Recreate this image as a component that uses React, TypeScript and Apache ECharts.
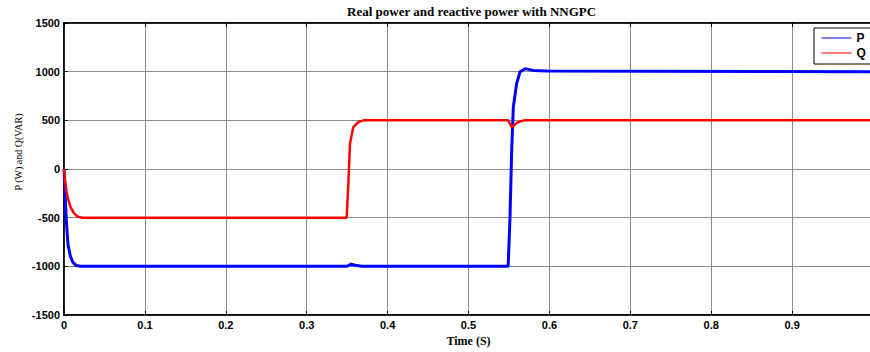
import React, { useEffect, useRef } from "react";
import * as echarts from "echarts";

// Time samples (s) and real power P (W)
const pTime = [0, 0.001, 0.003, 0.005, 0.008, 0.011, 0.015, 0.02, 0.35, 0.352, 0.355, 0.36, 0.368, 0.549, 0.5513, 0.5534, 0.5554, 0.5595, 0.5636, 0.5698, 0.58, 0.597, 1];
const pValue = [0, -200, -550, -780, -900, -960, -990, -1000, -1000, -990, -978, -988, -1000, -1000, -494, 191, 636, 877, 996, 1031, 1013, 1006, 1000];

// Time samples (s) and reactive power Q (VAR)
const qTime = [0, 0.001, 0.003, 0.005, 0.008, 0.012, 0.016, 0.022, 0.3494, 0.3515, 0.3535, 0.3576, 0.3638, 0.37, 0.549, 0.551, 0.5535, 0.556, 0.56, 0.565, 0.57, 1];
const qValue = [0, -100, -220, -310, -390, -450, -485, -500, -500, -151, 260, 431, 482, 500, 500, 470, 430, 445, 475, 492, 500, 500];

const xTicks = [0, 0.1, 0.2, 0.3, 0.4, 0.5, 0.6, 0.7, 0.8, 0.9];
const yTicks = [-1500, -1000, -500, 0, 500, 1000, 1500];

const titleText = "Real power and reactive power with NNGPC";
const xName = "Time (S)";
const yName = "P (W) and Q(VAR)";

export default function App() {
  const ref = useRef<HTMLDivElement>(null);
  useEffect(() => {
    if (!ref.current) return;
    const chart = echarts.init(ref.current, undefined, { renderer: "svg" });
    const pData = pTime.map((t, i) => [t, pValue[i]]);
    const qData = qTime.map((t, i) => [t, qValue[i]]);
    const tickFont = { fontFamily: "Liberation Sans, Arial, sans-serif", fontWeight: "bold" as const, fontSize: 11, color: "#000" };
    const serif = "Liberation Serif, Times New Roman, serif";
    chart.setOption({
      animation: false,
      backgroundColor: "#fff",
      title: {
        text: titleText,
        left: 342,
        top: 0,
        textStyle: { fontFamily: serif, fontWeight: "bold", fontSize: 13, color: "#000" },
      },
      legend: {
        orient: "vertical",
        left: 814,
        top: 28,
        padding: [4, 6, 5, 7],
        itemWidth: 30,
        itemHeight: 12,
        itemGap: 3,
        backgroundColor: "#fff",
        borderColor: "#000",
        borderWidth: 1,
        itemStyle: { opacity: 0 },
        lineStyle: { width: 1 },
        textStyle: { fontFamily: "Liberation Sans, Arial, sans-serif", fontWeight: "bold", fontSize: 12, color: "#000", lineHeight: 12 },
        data: ["P", "Q"],
      },
      grid: { left: 64, right: 3, top: 23, bottom: 37, show: true, borderColor: "#000", borderWidth: 1.5 },
      xAxis: [
        {
          type: "value",
          min: 0,
          max: 1,
          interval: 0.1,
          name: xName,
          nameLocation: "middle",
          nameGap: 16,
          nameTextStyle: { fontFamily: serif, fontWeight: "bold", fontSize: 12, color: "#000" },
          axisLine: { show: true, onZero: false, lineStyle: { color: "#000", width: 1.5 } },
          axisTick: { show: true, inside: true, length: 4, lineStyle: { color: "#000" } },
          axisLabel: {
            ...tickFont,
            margin: 4,
            formatter: (v: number) => {
              const r = Math.round(v * 10) / 10;
              return xTicks.some((t) => Math.abs(t - r) < 1e-9) ? String(r) : "";
            },
          },
          splitLine: { show: true, lineStyle: { color: "#8c8c8c", width: 1 } },
        },
        {
          type: "value",
          position: "top",
          min: 0,
          max: 1,
          interval: 0.1,
          axisLine: { show: true, onZero: false, lineStyle: { color: "#000", width: 1.5 } },
          axisTick: { show: true, inside: true, length: 4, lineStyle: { color: "#000" } },
          axisLabel: { show: false },
          splitLine: { show: false },
        },
      ],
      yAxis: {
        type: "value",
        min: yTicks[0],
        max: yTicks[yTicks.length - 1],
        interval: 500,
        axisLine: { show: true, onZero: false, lineStyle: { color: "#000", width: 1.5 } },
        axisTick: { show: true, inside: true, length: 4, lineStyle: { color: "#000" } },
        axisLabel: { ...tickFont, margin: 4, formatter: (v: number) => String(v) },
        splitLine: { show: true, lineStyle: { color: "#8c8c8c", width: 1 } },
      },
      graphic: [
        {
          type: "text",
          x: 18,
          y: 152,
          rotation: Math.PI / 2,
          style: {
            text: yName,
            fontFamily: serif,
            fontWeight: "normal",
            fontSize: 10,
            fill: "#000",
            textAlign: "center",
            textVerticalAlign: "middle",
          },
        },
      ],
      series: [
        {
          name: "P",
          type: "line",
          data: pData,
          symbol: "none",
          lineStyle: { color: "#0000ff", width: 3 },
          itemStyle: { color: "#0000ff" },
          z: 3,
        },
        {
          name: "Q",
          type: "line",
          data: qData,
          symbol: "none",
          lineStyle: { color: "#ff0000", width: 2.5 },
          itemStyle: { color: "#ff0000" },
          z: 3,
        },
      ],
    });
    return () => chart.dispose();
  }, []);
  return <div ref={ref} style={{ position: "fixed", left: 0, top: 0, width: 876, height: 352 }} />;
}
